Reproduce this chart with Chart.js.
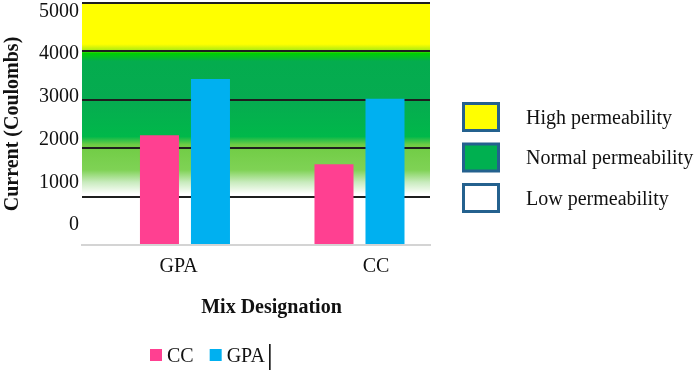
<!DOCTYPE html>
<html>
<head>
<meta charset="utf-8">
<script src="https://cdn.jsdelivr.net/npm/chart.js@4.4.1/dist/chart.umd.min.js"></script>
<style>
  html, body { margin: 0; padding: 0; background: #fff; }
</style>
</head>
<body>
<canvas id="chart" width="699" height="370"></canvas>
<script>
// Data
const categories = ['GPA', 'CC'];
const seriesNames = ['CC', 'GPA'];
const ccValues = [2270, 1670];   // Coulombs
const gpaValues = [3430, 3020];
const yTickValues = [0, 1000, 2000, 3000, 4000, 5000];
const bandLabels = ['High permeability', 'Normal permeability', 'Low permeability'];

// Styles
const SERIF = '"Liberation Serif", "Times New Roman", serif';
const SERIES_COLORS = ['#ff4091', '#00b0f0'];
const BAND_COLORS = ['#ffff00', '#00b050', '#ffffff'];
const BOX_BORDER = '#24618e';
// background gradient stops: [value on y axis, colour]
const BG_STOPS = [
    [5000, '#ffff00'], [4150, '#ffff00'], [4040, '#b8ee10'], [3960, '#00d000'],
    [3800, '#04ac4e'], [3000, '#06ab50'], [2240, '#00b84a'], [2070, '#70cc44'],
    [1550, '#7fd255'], [1300, '#c8ebbd'], [1050, '#ffffff'], [0, '#ffffff']
];

const fixedTicks = values => scale => { scale.ticks = values.map(v => ({ value: v })); };
const noPad = scale => { scale.paddingTop = 0; scale.paddingBottom = 0; scale.paddingLeft = 0; scale.paddingRight = 0; };

// zones drawn behind the bars
const bandBackground = {
    id: 'bandBackground',
    beforeDraw(chart) {
        const { ctx, chartArea: a, scales: { y } } = chart;
        const top = y.getPixelForValue(5000), bottom = y.getPixelForValue(0);
        const g = ctx.createLinearGradient(0, top, 0, bottom);
        BG_STOPS.forEach(([v, c]) => g.addColorStop((y.getPixelForValue(v) - top) / (bottom - top), c));
        ctx.save();
        ctx.fillStyle = g;
        ctx.fillRect(a.left, top, a.right - a.left, bottom - top);
        ctx.restore();
    }
};

// legends, x title, stray cursor
const extras = {
    id: 'extras',
    afterDraw(chart) {
        const { ctx } = chart;
        ctx.save();
        ctx.textBaseline = 'alphabetic';
        ctx.fillStyle = '#111';

        // permeability legend
        ctx.font = '20px ' + SERIF;
        bandLabels.forEach((lab, i) => {
            const top = 103.5 + i * 40.5;
            ctx.fillStyle = BAND_COLORS[i];
            ctx.fillRect(463.5, top, 35, 27);
            ctx.strokeStyle = BOX_BORDER;
            ctx.lineWidth = 3;
            ctx.strokeRect(463.5, top, 35, 27);
            ctx.fillStyle = '#111';
            ctx.fillText(lab, 526, top + 20);
        });

        // x axis title
        ctx.font = 'bold 20px ' + SERIF;
        ctx.textAlign = 'center';
        ctx.fillText('Mix Designation', 271.5, 313);

        // series legend
        ctx.textAlign = 'left';
        ctx.font = '20px ' + SERIF;
        let x = 150;
        chart.data.datasets.forEach(ds => {
            ctx.fillStyle = ds.backgroundColor;
            ctx.fillRect(x, 349, 12, 12);
            ctx.fillStyle = '#111';
            ctx.fillText(ds.label, x + 17, 362);
            x += 17 + ctx.measureText(ds.label).width + 16;
        });
        ctx.strokeStyle = '#000';
        ctx.lineWidth = 1.5;
        ctx.beginPath();
        ctx.moveTo(x - 11, 344);
        ctx.lineTo(x - 11, 370);
        ctx.stroke();
        ctx.restore();
    }
};

new Chart(document.getElementById('chart'), {
    type: 'bar',
    data: {
        datasets: [
            { label: seriesNames[0], data: categories.map((c, i) => ({ x: i, y: ccValues[i] })), backgroundColor: SERIES_COLORS[0] },
            { label: seriesNames[1], data: categories.map((c, i) => ({ x: i, y: gpaValues[i] })), backgroundColor: SERIES_COLORS[1] }
        ].map(ds => Object.assign(ds, { xAxisID: 'x', yAxisID: 'y', categoryPercentage: 0.5845, barPercentage: 0.765 }))
    },
    options: {
        responsive: false,
        animation: false,
        layout: { padding: { top: 3, right: 269, bottom: 0, left: 0 } },
        plugins: { legend: { display: false }, tooltip: { enabled: false } },
        scales: {
            x: {
                type: 'linear', display: false, offset: false, min: -0.590, max: 1.404,
                afterBuildTicks: fixedTicks(categories.map((c, i) => i))
            },
            xl: {
                type: 'linear', position: 'bottom', offset: false, min: -0.489, max: 1.273,
                afterBuildTicks: fixedTicks(categories.map((c, i) => i)),
                afterFit: s => { s.height = 125; noPad(s); },
                grid: { display: false, offset: false },
                border: { display: true, color: '#d4d4d4', width: 2 },
                ticks: { padding: 2, color: '#111', font: { family: SERIF, size: 20 }, callback: v => categories[v], maxRotation: 0 }
            },
            y: {
                min: 0, max: 5000,
                ticks: { display: false, stepSize: 1000 },
                afterFit: s => { s.width = 0; noPad(s); },
                border: { display: false },
                grid: {
                    drawTicks: false, lineWidth: 2,
                    color: c => c.tick && c.tick.value === 0 ? 'rgba(0,0,0,0)' : '#1e1e1e'
                }
            },
            yl: {
                type: 'linear', position: 'left', min: -468, max: 5199,
                afterBuildTicks: fixedTicks(yTickValues),
                afterFit: s => { s.width = 82; noPad(s); },
                grid: { display: false, drawTicks: false },
                border: { display: false },
                ticks: { padding: 3, color: '#111', font: { family: SERIF, size: 20 }, callback: v => String(v) },
                title: { display: true, text: 'Current (Coulombs)', color: '#111', padding: { top: 1, bottom: 0 }, font: { family: SERIF, size: 20, weight: 'bold' } }
            }
        }
    },
    plugins: [bandBackground, extras]
});
</script>
</body>
</html>
